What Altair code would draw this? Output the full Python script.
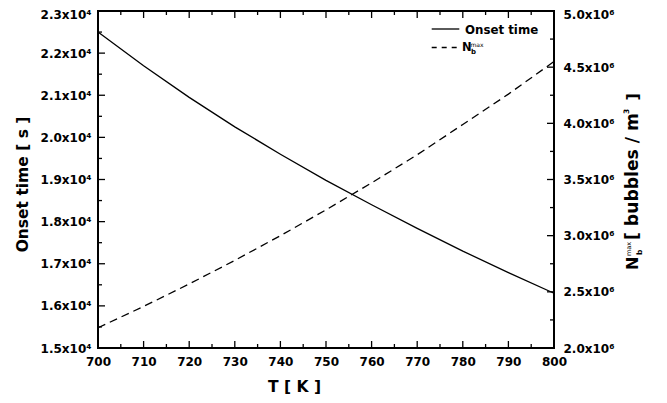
import altair as alt
import pandas as pd

FONT = "DejaVu Sans"

# ---- data ----
T = [700, 710, 720, 730, 740, 750, 760, 770, 780, 790, 800]
onset = [22500, 21700, 20950, 20250, 19600, 18980, 18400, 17840, 17300, 16790, 16300]
nbmax = [2.18e6, 2.37e6, 2.57e6, 2.78e6, 3.00e6, 3.23e6, 3.47e6, 3.72e6, 3.99e6, 4.26e6, 4.55e6]

x_major = [700, 710, 720, 730, 740, 750, 760, 770, 780, 790, 800]
x_minor = [705, 715, 725, 735, 745, 755, 765, 775, 785, 795]
left_major = [15000, 16000, 17000, 18000, 19000, 20000, 21000, 22000, 23000]
left_minor = [15500, 16500, 17500, 18500, 19500, 20500, 21500, 22500]
right_major = [2.0e6, 2.5e6, 3.0e6, 3.5e6, 4.0e6, 4.5e6, 5.0e6]
right_minor = [2.25e6, 2.75e6, 3.25e6, 3.75e6, 4.25e6, 4.75e6]

W, H = 456, 337
df = pd.DataFrame({"T": T, "onset": onset, "nb": nbmax})

xs = alt.Scale(domain=[700, 800], nice=False, zero=False)
yl = alt.Scale(domain=[15000, 23000], nice=False, zero=False)
yr = alt.Scale(domain=[2.0e6, 5.0e6], nice=False, zero=False)

common_axis = dict(
    labelFont=FONT, labelFontSize=12, labelFontWeight="bold", labelColor="black",
    ticks=False, domain=False, grid=False, labelFlush=False, labelOverlap=False,
)

x_axis = alt.Axis(
    values=x_major, title="T [ K ]", titleFont=FONT, titleFontSize=15.5,
    titleFontWeight="bold", titleColor="black", titleX=196, titleY=43,
    titleAlign="center", titleBaseline="alphabetic",
    labelPadding=8, **common_axis,
)


def xenc(field):
    return alt.X(field, scale=xs, axis=x_axis)


onset_line = alt.Chart(df).mark_line(color="black", strokeWidth=1.3).encode(
    x=xenc("T:Q"),
    y=alt.Y(
        "onset:Q", scale=yl,
        axis=alt.Axis(
            values=left_major,
            labelExpr="format(datum.value/10000, '.1f') + 'x10\u2074'",
            labelOffset={"condition": {"test": "datum.value == 23000", "value": 3}, "value": 0},
            title="Onset time [ s ]", titleFont=FONT, titleFontSize=15.5,
            titleFontWeight="bold", titleColor="black", titleX=-71, titleY=173,
            titleAngle=270, titleAlign="center", titleBaseline="alphabetic",
            labelPadding=7, **common_axis,
        ),
    ),
)

nb_line = alt.Chart(df).mark_line(color="black", strokeWidth=1.3, strokeDash=[8, 5]).encode(
    x=xenc("T:Q"),
    y=alt.Y(
        "nb:Q", scale=yr,
        axis=alt.Axis(
            orient="right", values=right_major,
            labelExpr="format(datum.value/1000000, '.1f') + 'x10\u2076'",
            labelOffset={"condition": {"test": "datum.value == 5000000", "value": 3}, "value": 0},
            title=None, labelPadding=9, **common_axis,
        ),
    ),
)


def vticks(vals, scale, x0, x1):
    d = pd.DataFrame({"v": vals})
    return alt.Chart(d).mark_rule(color="black", strokeWidth=1.3).encode(
        y=alt.Y("v:Q", scale=scale, axis=None), x=alt.value(x0), x2=alt.value(x1)
    )


def hticks(vals, y0, y1):
    d = pd.DataFrame({"T": vals})
    return alt.Chart(d).mark_rule(color="black", strokeWidth=1.3).encode(
        x=xenc("T:Q"), y=alt.value(y0), y2=alt.value(y1)
    )


def txt(s, x, y, size, weight="bold", angle=0, align="left", baseline="alphabetic"):
    return alt.Chart(pd.DataFrame({"t": [s]})).mark_text(
        font=FONT, fontSize=size, fontWeight=weight, angle=angle, align=align,
        baseline=baseline, color="black",
    ).encode(x=alt.value(x), y=alt.value(y), text="t:N")


def hline(x0, x1, y, dash=None):
    kw = dict(color="black", strokeWidth=1.3)
    if dash:
        kw["strokeDash"] = dash
    return alt.Chart(pd.DataFrame({"a": [0]})).mark_rule(**kw).encode(
        x=alt.value(x0), x2=alt.value(x1), y=alt.value(y)
    )


ticks = [
    vticks(left_major, yl, 0, 7),
    vticks(left_minor, yl, 0, 4),
    vticks(right_major, yr, W, W - 7),
    vticks(right_minor, yr, W, W - 4),
    hticks(x_major, H, H - 7),
    hticks(x_minor, H, H - 4),
    hticks(x_major, 0, 7),
    hticks(x_minor, 0, 4),
]

# right axis title: N_b^max [ bubbles / m^3 ]
right_title = [
    txt("N", 540, 259, 16, angle=270),
    txt("max", 533, 245, 6.5, weight="normal", angle=270),
    txt("b", 544, 244, 7.5, angle=270),
    txt("[ bubbles / m", 540, 229, 17.2, angle=270),
    txt("3", 531, 103, 7.5, angle=270),
    txt("]", 540, 89.5, 16, angle=270),
]

legend = [
    hline(333.7, 361.3, 18),
    txt("Onset time", 367, 23, 11.8),
    hline(333.7, 361.3, 36.5, dash=[5, 5]),
    txt("N", 364, 40, 11.5),
    txt("max", 372.5, 35.5, 6, weight="normal"),
    txt("b", 373, 43.3, 7),
]

chart = alt.layer(onset_line, nb_line, *ticks, *right_title, *legend).resolve_scale(
    y="independent"
).properties(
    width=W, height=H,
    autosize=alt.AutoSizeParams(type="none"),
    padding={"left": 90, "top": 3, "right": 105, "bottom": 47},
    background="white",
).configure_view(stroke="black", strokeWidth=2)

chart.save("out.html", embed_options={"renderer": "svg", "actions": False})
